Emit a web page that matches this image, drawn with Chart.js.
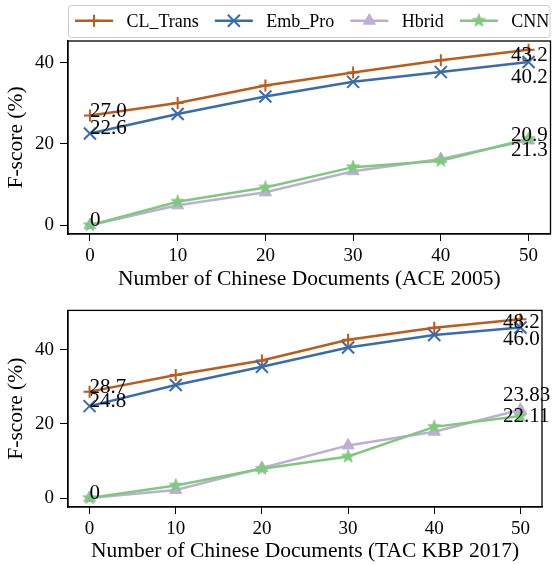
<!DOCTYPE html>
<html>
<head>
<meta charset="utf-8">
<script src="https://cdn.jsdelivr.net/npm/chart.js@4.4.1/dist/chart.umd.min.js"></script>
<style>
html,body{margin:0;padding:0;background:#fff;}
#wrap{position:relative;width:552px;height:565px;overflow:hidden;}
#c1{position:absolute;left:0;top:0;}
#c2{position:absolute;left:0;top:293px;}
</style>
</head>
<body>
<div id="wrap">
<canvas id="c1" width="552" height="293"></canvas>
<canvas id="c2" width="552" height="272"></canvas>
</div>
<script>
// data
const docs=[0,10,20,30,40,50];
const seriesNames=['CL_Trans','Emb_Pro','Hbrid','CNN'];
const aceCL=[27.0,30.1,34.4,37.6,40.6,43.2];
const aceEmb=[22.6,27.4,31.7,35.3,37.7,40.2];
const aceHb=[0,4.9,8.1,13.3,16.3,20.9];
const aceCNN=[0,5.8,9.3,14.3,15.9,21.3];
const tacCL=[28.7,33.2,37.1,42.7,45.9,48.2];
const tacEmb=[24.8,30.5,35.4,40.6,44.0,46.0];
const tacHb=[0,2.2,8.1,14.2,17.9,23.83];
const tacCNN=[0,3.4,7.9,11.2,19.2,22.11];
const xTicks=[0,10,20,30,40,50];
const yTicks=[0,20,40];
const aceFirstNotes=['27.0','22.6','','0'];
const aceLastNotes=['43.2','40.2','20.9','21.3'];
const tacFirstNotes=['28.7','24.8','','0'];
const tacLastNotes=['48.2','46.0','23.83','22.11'];

// styles
const cols=['#bf5b17','#386cb0','#beaed4','#7fc97f'];
const SERIF='"Liberation Serif","Times New Roman",serif';

function starImg(col){
    let s=document.createElement('canvas'); s.width=s.height=16;
    let c=s.getContext('2d'); c.beginPath();
    for(let i=0;i<10;i++){ let r=i%2?2.7:6.8; let a=-Math.PI/2+i*Math.PI/5; c.lineTo(8+r*Math.cos(a),8+r*Math.sin(a)); }
    c.closePath(); c.fillStyle=col; c.fill(); c.strokeStyle=col; c.lineWidth=1; c.stroke();
    return s;
}
const marks=[
    {pointStyle:'cross',radius:6,borderWidth:2},
    {pointStyle:'crossRot',radius:8.5,borderWidth:2},
    {pointStyle:'triangle',radius:7,borderWidth:1},
    {pointStyle:starImg(cols[3]),radius:7,borderWidth:1}
];

function drawMark(c,k,x,y){
    let m=marks[k];
    c.save(); c.fillStyle=cols[k]; c.strokeStyle=cols[k]; c.lineWidth=m.borderWidth;
    if(Chart.helpers&&Chart.helpers.drawPoint){ Chart.helpers.drawPoint(c,{pointStyle:m.pointStyle,radius:m.radius,rotation:0,borderWidth:m.borderWidth},x,y); }
    c.restore();
}

const framePlugin={id:'frame',afterDatasetsDraw(ch){
    let a=ch.chartArea,c=ch.ctx; c.save(); c.strokeStyle='#000'; c.lineWidth=1.3;
    c.strokeRect(a.left,a.top,a.right-a.left,a.bottom-a.top); c.restore();
}};

function notePlugin(first,last,dys){
    return {id:'notes',afterDatasetsDraw(ch){
        let c=ch.ctx; c.save(); c.font='21px '+SERIF; c.fillStyle='#000'; c.textAlign='left'; c.textBaseline='alphabetic';
        ch.data.datasets.forEach((d,k)=>{
            let pts=ch.getDatasetMeta(k).data;
            if(first[k]) c.fillText(first[k],pts[0].x,pts[0].y+1);
            if(last[k]){ let p=pts[pts.length-1]; c.fillText(last[k],p.x-17.5,p.y+dys[k]); }
        });
        c.restore();
    }};
}

const legendPlugin={id:'lg',afterDraw(ch){
    let c=ch.ctx; c.save();
    c.beginPath();
    if(c.roundRect) c.roundRect(68.5,5.5,481.5,32,3); else c.rect(68.5,5.5,481.5,32);
    c.fillStyle='rgba(255,255,255,0.8)'; c.fill();
    c.strokeStyle='#cccccc'; c.lineWidth=1; c.stroke();
    c.font='18px '+SERIF; c.textBaseline='alphabetic'; c.textAlign='left';
    let x=75;
    seriesNames.forEach((n,k)=>{
        c.beginPath(); c.moveTo(x,20.7); c.lineTo(x+38,20.7); c.strokeStyle=cols[k]; c.lineWidth=2.5; c.stroke();
        drawMark(c,k,x+19,20.7);
        c.fillStyle='#000'; c.fillText(n,x+51.5,27);
        x+=51.5+c.measureText(n).width+16;
    });
    c.restore();
}};

function range(arrs){
    let all=[].concat(...arrs); let lo=Math.min(...all),hi=Math.max(...all),m=(hi-lo)*0.05;
    return [lo-m,hi+m];
}

function makeChart(id,series,xTitle,opt){
    let yr=range(series), xr=range([docs]);
    let ds=series.map((vals,k)=>({
        label:seriesNames[k],
        data:vals.map((v,i)=>({x:docs[i],y:v})),
        borderColor:cols[k],backgroundColor:cols[k],borderWidth:2.5,
        pointStyle:marks[k].pointStyle,pointRadius:marks[k].radius,pointBorderWidth:marks[k].borderWidth,
        pointBackgroundColor:cols[k],pointBorderColor:cols[k],
        pointHoverRadius:marks[k].radius,tension:0,order:3-k
    }));
    let plugins=[framePlugin,notePlugin(opt.first,opt.last,opt.dys)];
    if(opt.legend) plugins.push(legendPlugin);
    return new Chart(document.getElementById(id),{
        type:'line',
        data:{datasets:ds},
        options:{
            responsive:false,animation:false,events:[],
            layout:{autoPadding:false,padding:{top:opt.top,right:opt.right,left:0,bottom:0}},
            plugins:{legend:{display:false},tooltip:{enabled:false}},
            scales:{
                x:{type:'linear',min:xr[0],max:xr[1],
                    afterBuildTicks:s=>{s.ticks=xTicks.map(v=>({value:v}));},
                    afterFit:s=>{s.height=opt.xh;},
                    grid:{drawOnChartArea:false,drawTicks:true,tickLength:7,color:'#000',lineWidth:1},
                    border:{display:true,color:'#000',width:1.3},
                    ticks:{color:'#000',font:{family:SERIF,size:19},padding:3.4,autoSkip:false,maxRotation:0},
                    title:{display:true,text:xTitle,color:'#000',font:{family:SERIF,size:21.5},padding:{top:0,bottom:0.7}}
                },
                y:{type:'linear',min:yr[0],max:yr[1],
                    afterBuildTicks:s=>{s.ticks=yTicks.map(v=>({value:v}));},
                    afterFit:s=>{s.width=68;},
                    grid:{drawOnChartArea:false,drawTicks:true,tickLength:8,color:'#000',lineWidth:1},
                    border:{display:true,color:'#000',width:1.3},
                    ticks:{color:'#000',font:{family:SERIF,size:19},padding:6},
                    title:{display:true,text:'F-score (%)',color:'#000',font:{family:SERIF,size:21.5},padding:{top:3.3,bottom:0}}
                }
            }
        },
        plugins:plugins
    });
}

function init(){
    makeChart('c1',[aceCL,aceEmb,aceHb,aceCNN],'Number of Chinese Documents (ACE 2005)',
        {top:41,right:1.5,xh:59,legend:true,first:aceFirstNotes,last:aceLastNotes,dys:[11.6,21,1,17]});
    makeChart('c2',[tacCL,tacEmb,tacHb,tacCNN],'Number of Chinese Documents (TAC KBP 2017)',
        {top:13,right:10,xh:58,legend:false,first:tacFirstNotes,last:tacLastNotes,dys:[9,18,-9,6]});
}
if(document.fonts&&document.fonts.load){
    document.fonts.load('21px "Liberation Serif"').then(init,init);
} else init();
</script>
</body>
</html>
